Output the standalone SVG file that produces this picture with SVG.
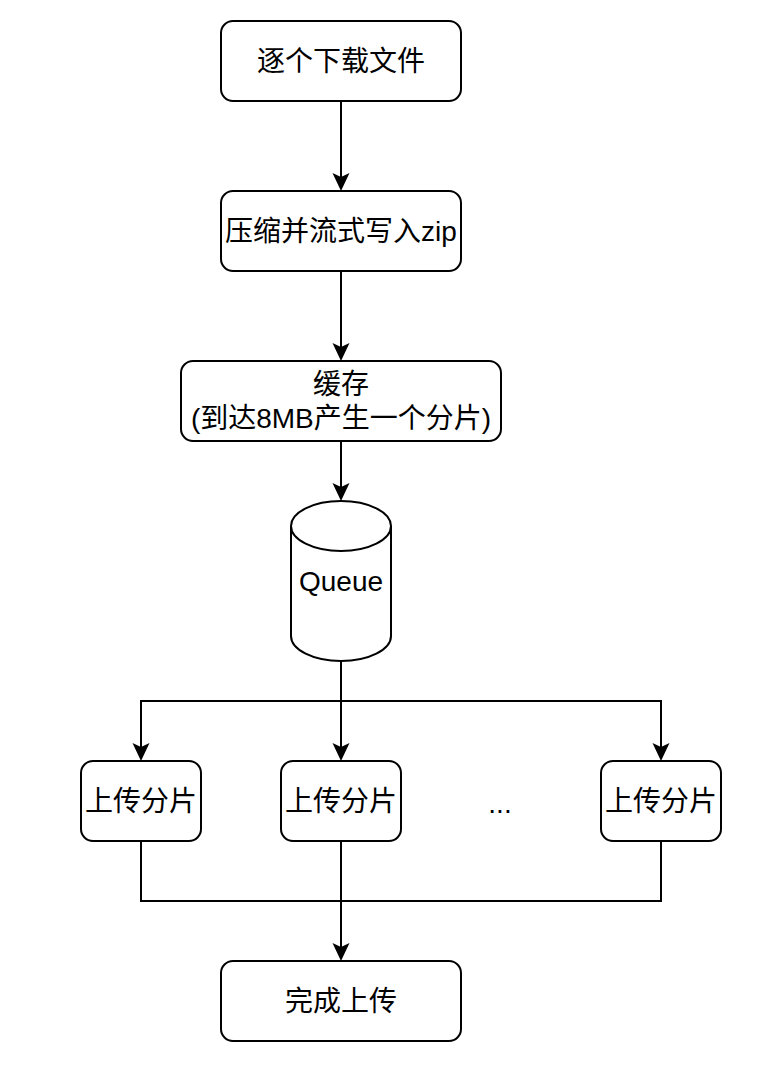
<svg xmlns="http://www.w3.org/2000/svg" width="774" height="1066" viewBox="0 0 774 1066">
<style>
.box{fill:#fff;stroke:#000;stroke-width:2}
.t{font-family:"Liberation Sans","Noto Sans CJK SC",sans-serif;font-size:28px;fill:#000;text-anchor:middle}
.c{fill:none;stroke:#000;stroke-width:2}
</style>
<defs>
<marker id="arr" markerUnits="userSpaceOnUse" markerWidth="20" markerHeight="20" viewBox="0 0 20 20" refX="6" refY="10" orient="auto">
<path d="M2,1.5 L20,10 L2,18.5 L6,10 Z" fill="#000"/>
</marker>
</defs>
<rect width="774" height="1066" fill="#fff"/>
<g id="connectors">
<path class="c" d="M341,101 V177" marker-end="url(#arr)"/>
<path class="c" d="M341,271 V347" marker-end="url(#arr)"/>
<path class="c" d="M341,441 V487" marker-end="url(#arr)"/>
<path class="c" d="M341,661 V747" marker-end="url(#arr)"/>
<path class="c" d="M341,701 H141 V747" marker-end="url(#arr)"/>
<path class="c" d="M341,701 H661 V747" marker-end="url(#arr)"/>
<path class="c" d="M341,841 V947" marker-end="url(#arr)"/>
<path class="c" d="M141,841 V901 H661 V841"/>
</g>
<g id="n1"><rect class="box" x="221" y="21" width="240" height="80" rx="12"/><text class="t" x="341" y="71">逐个下载文件</text></g>
<g id="n2"><rect class="box" x="221" y="191" width="240" height="80" rx="12"/><text class="t" x="341" y="241">压缩并流式写入zip</text></g>
<g id="n3"><rect class="box" x="181" y="361" width="320" height="80" rx="12"/><text class="t" x="341" y="394">缓存</text><text class="t" x="341" y="428">(到达8MB产生一个分片)</text></g>
<g id="queue">
<path class="box" d="M291,526 A50,25 0 0 1 391,526 V636 A50,25 0 0 1 291,636 Z"/>
<path class="c" d="M291,526 A50,25 0 0 0 391,526"/>
<text class="t" x="341" y="591">Queue</text>
</g>
<g id="u1"><rect class="box" x="81" y="761" width="120" height="80" rx="12"/><text class="t" x="141" y="811">上传分片</text></g>
<g id="u2"><rect class="box" x="281" y="761" width="120" height="80" rx="12"/><text class="t" x="341" y="811">上传分片</text></g>
<g id="dots"><text class="t" x="500" y="813">...</text></g>
<g id="u3"><rect class="box" x="601" y="761" width="120" height="80" rx="12"/><text class="t" x="661" y="811">上传分片</text></g>
<g id="done"><rect class="box" x="221" y="961" width="240" height="80" rx="12"/><text class="t" x="341" y="1011">完成上传</text></g>
</svg>
